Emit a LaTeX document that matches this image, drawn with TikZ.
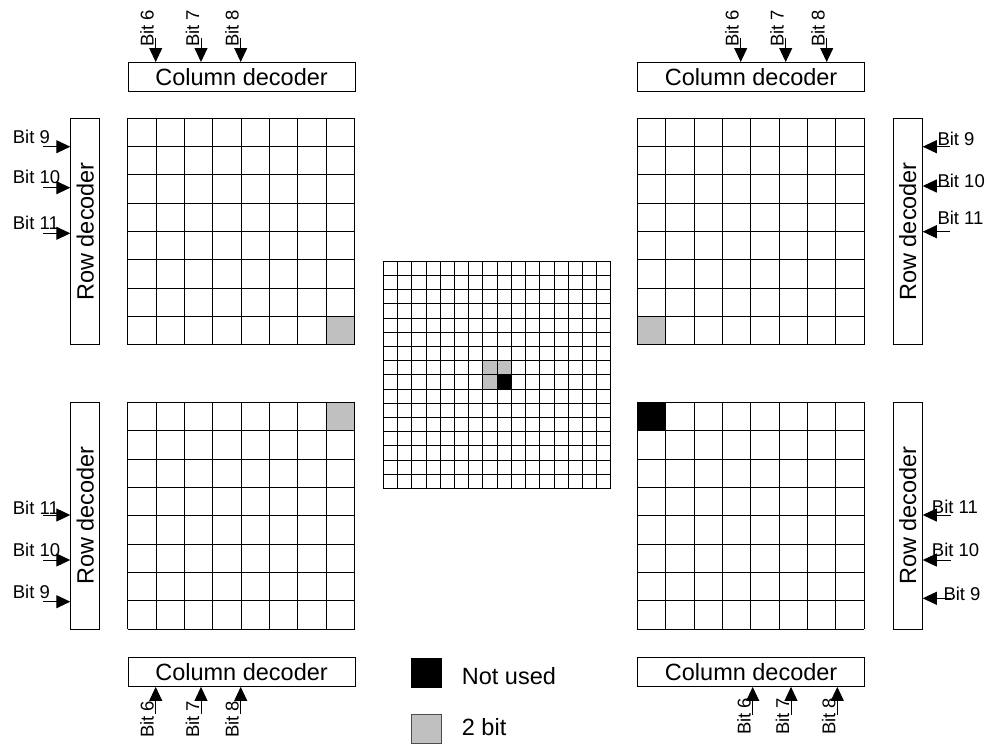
\documentclass[tikz,border=0pt]{standalone}
\usepackage{fontspec}
\setmainfont{Liberation Sans}
\usetikzlibrary{arrows.meta}
\definecolor{cellgray}{RGB}{192,192,192}
\begin{document}
\begin{tikzpicture}[x=1pt,y=-1pt,
  box/.style={draw, line width=0.9pt, inner sep=0pt, font=\fontsize{23.5}{24}\selectfont},
  colbox/.style={box, minimum width=226.8pt, minimum height=28.7pt, anchor=north west},
  rowbox/.style={box, rotate=90, minimum width=226.8pt, minimum height=29pt, anchor=center},
  arr/.style={line width=0.9pt, -{Triangle[length=14pt,width=13pt]}},
  bitv/.style={rotate=90, anchor=base west, inner sep=0pt, font=\fontsize{18.5}{18.5}\selectfont},
  bith/.style={anchor=base west, inner sep=0pt, font=\fontsize{18.5}{18.5}\selectfont},
  gridline/.style={line width=0.8pt},
  legsq/.style={draw, line width=0.9pt, minimum width=30pt, minimum height=29pt, inner sep=0pt, anchor=north west},
  legtxt/.style={anchor=west, inner sep=0pt, font=\fontsize{23.5}{24}\selectfont}
]
\useasboundingbox (0,0) rectangle (990,744);

% ---------- filled cells ----------
\def\c{28.35}
\fill[cellgray] (127.7+7*\c,118+7*\c) rectangle ++(\c,\c);      % TL
\fill[cellgray] (637.3,118+7*\c) rectangle ++(\c,\c);            % TR
\fill[cellgray] (127.7+7*\c,402.3) rectangle ++(\c,\c);          % BL
\fill[black] (637.3,402.3) rectangle ++(\c,\c);                  % BR
% centre grid cells
\def\s{14.2125}
\fill[cellgray] (383.3+7*\s,261+7*\s) rectangle ++(2*\s,\s);
\fill[cellgray] (383.3+7*\s,261+8*\s) rectangle ++(\s,\s);
\fill[black] (383.3+8*\s,261+8*\s) rectangle ++(\s,\s);

% ---------- 8x8 grids ----------
\foreach \gx/\gy in {127.7/118, 637.3/118, 127.7/402.3, 637.3/402.3}{
  \foreach \i in {0,...,8}{
    \draw[gridline] (\gx+\i*\c,\gy) -- (\gx+\i*\c,\gy+8*\c);
    \draw[gridline] (\gx,\gy+\i*\c) -- (\gx+8*\c,\gy+\i*\c);
  }
}
% ---------- 16x16 centre grid ----------
\foreach \i in {0,...,16}{
  \draw[line width=0.7pt] (383.3+\i*\s,261) -- (383.3+\i*\s,261+16*\s);
  \draw[line width=0.7pt] (383.3,261+\i*\s) -- (383.3+16*\s,261+\i*\s);
}

% ---------- decoders ----------
\node[colbox] (cdTL) at (127.7,62) {Column decoder};
\node[colbox] (cdTR) at (637.3,62) {Column decoder};
\node[colbox] (cdBL) at (127.7,657.3) {Column decoder};
\node[colbox] (cdBR) at (637.3,657.3) {Column decoder};
\node[rowbox] (rdTL) at (85.25,231.4) {Row decoder};
\node[rowbox] (rdTR) at (907.8,231.4) {Row decoder};
\node[rowbox] (rdBL) at (85.25,515.7) {Row decoder};
\node[rowbox] (rdBR) at (907.8,515.7) {Row decoder};

% ---------- column inputs ----------
\foreach \x/\n in {155.7/6, 201/7, 240.7/8}{
  \coordinate (tlc\n) at (\x,38);
  \draw[arr] (tlc\n) -- (tlc\n |- cdTL.north);
  \node[bitv] (tlcl\n) at (\x-2,47) {Bit \n};
}
\foreach \x/\n in {740.7/6, 785.7/7, 826.7/8}{
  \coordinate (trc\n) at (\x,38);
  \draw[arr] (trc\n) -- (trc\n |- cdTR.north);
  \node[bitv] (trcl\n) at (\x-2,47) {Bit \n};
}
\foreach \x/\n in {155.7/6, 201/7, 240.7/8}{
  \coordinate (blc\n) at (\x,714);
  \draw[arr] (blc\n) -- (blc\n |- cdBL.south);
  \node[bitv] (blcl\n) at (\x-2,738) {Bit \n};
}
\foreach \x/\n in {752.7/6, 791/7, 837.3/8}{
  \coordinate (brc\n) at (\x,715);
  \draw[arr] (brc\n) -- (brc\n |- cdBR.south);
  \node[bitv] (brcl\n) at (\x-2,735) {Bit \n};
}

% ---------- row inputs ----------
\foreach \y/\b/\n in {146.7/143/9, 187.7/183.5/10, 233.3/229.3/11}{
  \coordinate (tlr\n) at (43,\y);
  \draw[arr] (tlr\n) -- (tlr\n -| rdTL.north);
  \node[bith] (tlrl\n) at (12.7,\b) {Bit \n};
}
\foreach \y/\b/\n in {146.7/145/9, 186/187/10, 231.7/224/11}{
  \coordinate (trr\n) at (950,\y);
  \draw[arr] (trr\n) -- (trr\n -| rdTR.south);
  \node[bith] (trrl\n) at (937.3,\b) {Bit \n};
}
\foreach \y/\b/\n in {515/514/11, 560/556.7/10, 601.7/598.3/9}{
  \coordinate (blr\n) at (43,\y);
  \draw[arr] (blr\n) -- (blr\n -| rdBL.north);
  \node[bith] (blrl\n) at (12.7,\b) {Bit \n};
}
\foreach \y/\b/\x/\n in {515/513.3/931.7/11, 560/556.7/931.7/10, 598.3/600/943.3/9}{
  \coordinate (brr\n) at (951,\y);
  \draw[arr] (brr\n) -- (brr\n -| rdBR.south);
  \node[bith] (brrl\n) at (\x,\b) {Bit \n};
}

% ---------- legend ----------
\node[legsq, fill=black] (lgNU) at (410.7,657.7) {};
\node[legsq, fill=cellgray, draw=black!70] (lg2b) at (410.7,714) {};
\node[legtxt] (lgNUt) at (461.7,676.5) {Not used};
\node[legtxt] (lg2bt) at (461.7,727.5) {2 bit};
\end{tikzpicture}
\end{document}
